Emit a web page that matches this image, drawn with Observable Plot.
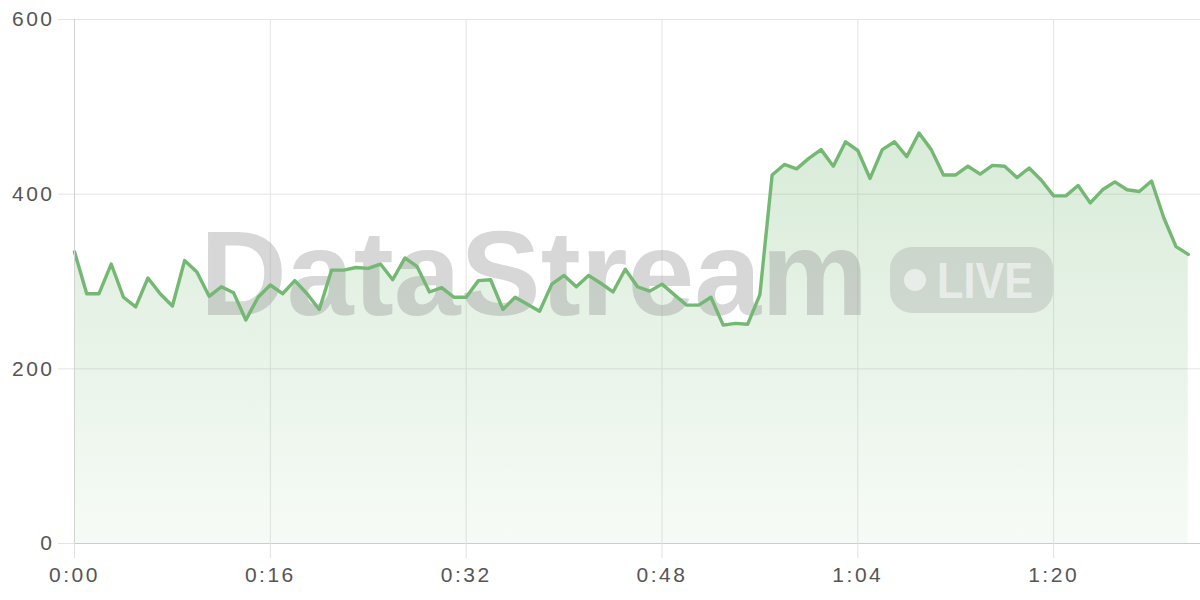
<!DOCTYPE html>
<html>
<head>
<meta charset="utf-8">
<script src="https://cdn.jsdelivr.net/npm/d3@7"></script>
<script src="https://cdn.jsdelivr.net/npm/@observablehq/plot@0.6"></script>
<style>
  html, body { margin: 0; padding: 0; background: #fff; }
  #chart { width: 1200px; height: 600px; }
</style>
</head>
<body>
<div id="chart"></div>
<script>
// Seconds elapsed (one sample per second)
const seconds = d3.range(0, 92);
// Stream values
const values = [
  334, 286, 286, 320, 282, 271, 304, 286, 272, 324,
  311, 283, 294, 287, 256, 282, 296, 286, 301, 286,
  268, 313, 313, 316, 315, 320, 302, 327, 317, 288,
  293, 282, 282, 301, 302, 268, 282, 274, 266, 297,
  307, 294, 307, 298, 288, 314, 294, 289, 297, 285,
  273, 273, 282, 250, 252, 251, 285, 422, 434, 429,
  441, 451, 432, 460, 450, 418, 451, 460, 443, 470,
  451, 422, 422, 432, 423, 433, 432, 419, 430, 416,
  398, 398, 410, 390, 405, 414, 405, 403, 415, 373,
  340, 331
];
const xTicks = [0, 16, 32, 48, 64, 80];
const yTicks = [0, 200, 400, 600];

const data = seconds.map((s, i) => ({ t: s, v: values[i] }));
const fmtTime = d => `${Math.floor(d / 60)}:${String(d % 60).padStart(2, "0")}`;

const NS = "http://www.w3.org/2000/svg";
const green = "#74b874";

function gradientDefs() {
  const defs = document.createElementNS(NS, "defs");
  defs.innerHTML = `<linearGradient id="areaGrad" x1="0" y1="0" x2="0" y2="1">
      <stop offset="0" stop-color="${green}" stop-opacity="0.28"/>
      <stop offset="1" stop-color="${green}" stop-opacity="0.06"/>
    </linearGradient>`;
  return defs;
}

function watermark() {
  const g = document.createElementNS(NS, "g");
  g.setAttribute("pointer-events", "none");
  g.setAttribute("text-anchor", "start");
  g.innerHTML = `
    <text x="200" y="315" text-anchor="start" font-family="Liberation Sans, Arial, sans-serif" font-weight="bold"
      font-size="121" textLength="668" lengthAdjust="spacingAndGlyphs" fill="#9a9a9a" fill-opacity="0.4">DataStream</text>
    <rect x="890" y="247" width="163" height="66" rx="22" ry="22" fill="#9a9a9a" fill-opacity="0.3"/>
    <circle cx="915" cy="280" r="11" fill="#ffffff" fill-opacity="0.55"/>
    <text x="937" y="298" text-anchor="start" font-family="Liberation Sans, Arial, sans-serif" font-size="50"
      font-weight="bold" textLength="96" lengthAdjust="spacingAndGlyphs" fill="#ffffff" fill-opacity="0.55">LIVE</text>`;
  return g;
}

const chart = Plot.plot({
  width: 1200,
  height: 600,
  marginLeft: 74,
  marginRight: 0,
  marginTop: 19,
  marginBottom: 57,
  style: { fontFamily: "Liberation Sans, Arial, sans-serif", background: "#fff", overflow: "visible" },
  x: { domain: [0, 92] },
  y: { domain: [0, 600] },
  marks: [
    gradientDefs,
    Plot.gridY(yTicks, { stroke: "#e4e4e4", strokeOpacity: 1 }),
    Plot.gridX(xTicks, { stroke: "#e4e4e4", strokeOpacity: 1 }),
    Plot.areaY(data, { x: "t", y: "v", fill: "url(#areaGrad)" }),
    watermark,
    Plot.lineY(data, { x: "t", y: "v", stroke: green, strokeWidth: 3.4, strokeLinejoin: "round" }),
    Plot.ruleX([0], { stroke: "#d2d2d2" }),
    Plot.ruleY([0], { stroke: "#cccccc" }),
    Plot.axisX(xTicks, {
      tickFormat: fmtTime, tickSize: 15, tickPadding: 9, stroke: "#e0e0e0",
      fill: "#555", fontSize: 21, label: null
    }),
    Plot.axisY(yTicks, {
      tickSize: 16, tickPadding: 4, stroke: "#e4e4e4",
      fill: "#555", fontSize: 21, label: null
    })
  ]
});
document.getElementById("chart").appendChild(chart);
chart.querySelectorAll('[aria-label="y-axis tick label"] text, [aria-label="x-axis tick label"] text').forEach(t => {
  t.style.letterSpacing = "2.5px";
});
</script>
</body>
</html>
